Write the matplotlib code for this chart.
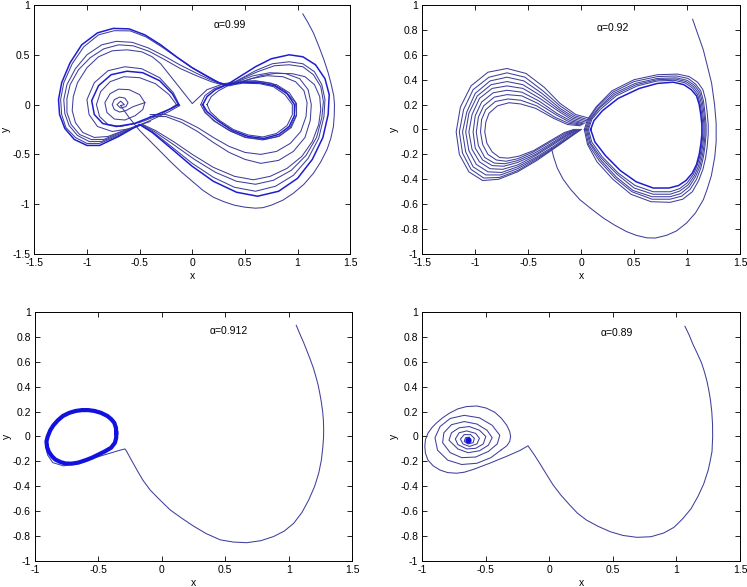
import numpy as np
import matplotlib
matplotlib.use('Agg')
import matplotlib.pyplot as plt
from matplotlib.ticker import FormatStrFormatter

plt.rcParams['font.family'] = ['Liberation Sans', 'DejaVu Sans']
plt.rcParams['axes.unicode_minus'] = False

# ---------------- alpha = 0.99 (top left) ----------------
tl_label = 'α=0.99'
tl_tail = np.array([(1.05, 0.91), (1.1, 0.82), (1.15, 0.72), (1.2, 0.59), (1.25, 0.45), (1.29, 0.32),
                    (1.32, 0.2), (1.343, 0.09), (1.35, 0.0), (1.348, -0.11), (1.34, -0.22), (1.315, -0.34),
                    (1.28, -0.45), (1.22, -0.575), (1.15, -0.69), (1.06, -0.8), (0.96, -0.89), (0.86, -0.96),
                    (0.75, -1.01), (0.67, -1.035), (0.6, -1.04), (0.5, -1.03), (0.4, -1.01), (0.3, -0.975),
                    (0.2, -0.93), (0.1, -0.86), (0.0, -0.77), (-0.1, -0.68), (-0.2, -0.58), (-0.35, -0.42),
                    (-0.5, -0.26), (-0.6, -0.13), (-0.68, -0.01)])
tl_spiral = np.array([(-0.68, -0.01), (-0.645, 0.0), (-0.68, 0.035), (-0.715, 0.0), (-0.68, -0.035),
                      (-0.63, -0.02), (-0.61, 0.02), (-0.64, 0.065), (-0.69, 0.075), (-0.74, 0.05),
                      (-0.76, 0.0), (-0.74, -0.05), (-0.69, -0.075), (-0.63, -0.06), (-0.56, -0.02),
                      (-0.45, 0.02), (-0.5, 0.1), (-0.6, 0.15), (-0.7, 0.155), (-0.78, 0.11), (-0.83, 0.02),
                      (-0.81, -0.08), (-0.74, -0.145), (-0.64, -0.155), (-0.54, -0.11), (-0.47, -0.05),
                      (-0.45, 0.02)])
tl_loop_b = np.array([(-0.15, 0.0), (-0.22, 0.1), (-0.35, 0.21), (-0.5, 0.27), (-0.65, 0.28), (-0.78, 0.23),
                      (-0.87, 0.13), (-0.91, 0.0), (-0.88, -0.12), (-0.8, -0.2), (-0.68, -0.22), (-0.5, -0.18),
                      (-0.3, -0.1), (-0.15, 0.0)])
tl_loop_c = np.array([(-0.13, 0.0), (-0.19, 0.11), (-0.31, 0.24), (-0.47, 0.32), (-0.62, 0.335), (-0.77, 0.3),
                      (-0.89, 0.19), (-0.955, 0.04), (-0.93, -0.1), (-0.85, -0.19), (-0.72, -0.22),
                      (-0.55, -0.19), (-0.36, -0.11), (-0.2, -0.04), (-0.13, 0.0)])
tl_loop_d = np.array([(-0.12, -0.01), (-0.18, 0.12), (-0.31, 0.27), (-0.48, 0.36), (-0.64, 0.38), (-0.8, 0.34),
                      (-0.93, 0.22), (-1.0, 0.05), (-0.98, -0.1), (-0.9, -0.22), (-0.76, -0.27), (-0.58, -0.24),
                      (-0.4, -0.16), (-0.22, -0.07), (-0.12, -0.01)])
tl_big_1 = np.array([(0.33, 0.2), (0.45, 0.28), (0.6, 0.38), (0.75, 0.46), (0.92, 0.5), (1.05, 0.48),
                     (1.17, 0.4), (1.26, 0.26), (1.3, 0.1), (1.29, -0.1), (1.24, -0.33), (1.14, -0.55),
                     (1.0, -0.74), (0.82, -0.87), (0.62, -0.92), (0.42, -0.88), (0.2, -0.77), (0.0, -0.62),
                     (-0.2, -0.44), (-0.38, -0.28), (-0.5, -0.2), (-0.7, -0.32), (-0.88, -0.41), (-1.0, -0.41),
                     (-1.12, -0.35), (-1.21, -0.24), (-1.26, -0.1), (-1.27, 0.05), (-1.24, 0.22), (-1.16, 0.42),
                     (-1.05, 0.6), (-0.9, 0.72), (-0.75, 0.765), (-0.6, 0.76), (-0.45, 0.7), (-0.3, 0.6),
                     (-0.15, 0.48), (0.0, 0.37), (0.15, 0.28), (0.25, 0.22), (0.33, 0.2)])
tl_big_2 = np.array([(0.34, 0.19), (0.46, 0.26), (0.6, 0.34), (0.76, 0.41), (0.92, 0.43), (1.05, 0.41),
                     (1.16, 0.33), (1.23, 0.2), (1.26, 0.05), (1.25, -0.12), (1.2, -0.34), (1.1, -0.54),
                     (0.96, -0.71), (0.79, -0.82), (0.6, -0.87), (0.4, -0.83), (0.2, -0.73), (0.0, -0.59),
                     (-0.2, -0.42), (-0.38, -0.27), (-0.5, -0.2), (-0.7, -0.31), (-0.88, -0.39), (-1.0, -0.39),
                     (-1.11, -0.33), (-1.2, -0.23), (-1.24, -0.1), (-1.25, 0.05), (-1.22, 0.22), (-1.14, 0.41),
                     (-1.03, 0.58), (-0.89, 0.7), (-0.74, 0.742), (-0.59, 0.74), (-0.44, 0.68), (-0.29, 0.58),
                     (-0.14, 0.47), (0.01, 0.36), (0.16, 0.27), (0.26, 0.22), (0.34, 0.19)])
tl_big_3 = np.array([(0.35, 0.2), (0.47, 0.26), (0.62, 0.33), (0.78, 0.39), (0.92, 0.4), (1.05, 0.38),
                     (1.15, 0.3), (1.22, 0.18), (1.245, 0.03), (1.23, -0.13), (1.18, -0.33), (1.08, -0.51),
                     (0.94, -0.66), (0.77, -0.76), (0.6, -0.8), (0.42, -0.77), (0.22, -0.68), (0.02, -0.55),
                     (-0.18, -0.4), (-0.36, -0.27), (-0.48, -0.2), (-0.68, -0.29), (-0.86, -0.37), (-0.98, -0.37),
                     (-1.09, -0.31), (-1.17, -0.21), (-1.21, -0.09), (-1.22, 0.05), (-1.19, 0.2), (-1.11, 0.36),
                     (-1.0, 0.5), (-0.86, 0.6), (-0.72, 0.635), (-0.57, 0.625), (-0.42, 0.57), (-0.27, 0.49),
                     (-0.12, 0.4), (0.03, 0.32), (0.17, 0.25), (0.27, 0.21), (0.35, 0.2)])
tl_big_4 = np.array([(0.36, 0.19), (0.5, 0.24), (0.65, 0.29), (0.8, 0.315), (0.95, 0.31), (1.07, 0.28),
                     (1.16, 0.2), (1.21, 0.08), (1.22, -0.05), (1.2, -0.2), (1.14, -0.37), (1.04, -0.52),
                     (0.9, -0.64), (0.74, -0.72), (0.58, -0.755), (0.4, -0.72), (0.2, -0.63), (0.0, -0.5),
                     (-0.18, -0.37), (-0.35, -0.26), (-0.47, -0.2), (-0.66, -0.27), (-0.84, -0.35),
                     (-0.96, -0.35), (-1.07, -0.3), (-1.15, -0.2), (-1.19, -0.08), (-1.19, 0.06), (-1.16, 0.2),
                     (-1.08, 0.35), (-0.97, 0.47), (-0.84, 0.56), (-0.7, 0.6), (-0.56, 0.59), (-0.41, 0.535),
                     (-0.26, 0.45), (-0.11, 0.36), (0.04, 0.29), (0.18, 0.23), (0.28, 0.2), (0.36, 0.19)])
tl_big_5 = np.array([(-0.4, -0.17), (-0.6, -0.24), (-0.8, -0.32), (-0.93, -0.33), (-1.04, -0.28),
                     (-1.11, -0.18), (-1.14, -0.06), (-1.13, 0.08), (-1.09, 0.22), (-1.0, 0.37), (-0.89, 0.48),
                     (-0.76, 0.54), (-0.62, 0.55), (-0.48, 0.53), (-0.38, 0.48), (-0.3, 0.41), (-0.15, 0.21),
                     (0.0, 0.01), (0.14, 0.15), (0.3, 0.21), (0.45, 0.235), (0.6, 0.24), (0.75, 0.215),
                     (0.88, 0.14), (0.98, 0.02), (0.99, -0.1), (0.93, -0.23), (0.82, -0.32), (0.67, -0.355),
                     (0.5, -0.33), (0.35, -0.26), (0.2, -0.16), (0.12, -0.07), (0.1, 0.0)])
tl_mid_1 = np.array([(-0.4, -0.1), (-0.25, -0.1), (-0.1, -0.15), (0.05, -0.23), (0.2, -0.33), (0.35, -0.42),
                     (0.5, -0.48), (0.65, -0.5), (0.8, -0.47), (0.93, -0.39), (1.03, -0.27), (1.08, -0.12),
                     (1.09, 0.02), (1.06, 0.14), (0.98, 0.23), (0.86, 0.28), (0.71, 0.29), (0.56, 0.26),
                     (0.44, 0.22), (0.34, 0.2)])
tl_mid_2 = np.array([(-0.4, -0.12), (-0.25, -0.12), (-0.1, -0.18), (0.05, -0.27), (0.2, -0.38), (0.35, -0.48),
                     (0.5, -0.55), (0.65, -0.59), (0.82, -0.56), (0.96, -0.47), (1.07, -0.33), (1.12, -0.16),
                     (1.13, 0.0), (1.1, 0.15), (1.02, 0.26), (0.89, 0.31), (0.74, 0.32), (0.58, 0.29),
                     (0.45, 0.24), (0.34, 0.2)])
tl_tear_1 = np.array([(0.1, 0.0), (0.14, 0.08), (0.22, 0.15), (0.33, 0.2), (0.48, 0.225), (0.64, 0.22),
                      (0.78, 0.19), (0.9, 0.11), (0.97, 0.0), (0.97, -0.11), (0.92, -0.22), (0.82, -0.3),
                      (0.68, -0.34), (0.53, -0.32), (0.38, -0.26), (0.24, -0.16), (0.14, -0.07), (0.1, 0.0)])
tl_tear_2 = np.array([(0.08, 0.0), (0.12, 0.09), (0.21, 0.16), (0.33, 0.205), (0.48, 0.23), (0.65, 0.23),
                      (0.8, 0.2), (0.92, 0.12), (0.99, 0.01), (0.99, -0.11), (0.94, -0.23), (0.83, -0.315),
                      (0.68, -0.35), (0.52, -0.33), (0.37, -0.27), (0.22, -0.17), (0.12, -0.08), (0.08, 0.0)])
tl_tear_3 = np.array([(0.14, 0.0), (0.18, 0.08), (0.25, 0.14), (0.34, 0.19), (0.48, 0.215), (0.64, 0.21),
                      (0.77, 0.18), (0.88, 0.1), (0.95, 0.0), (0.95, -0.1), (0.9, -0.21), (0.8, -0.29),
                      (0.67, -0.325), (0.53, -0.305), (0.39, -0.25), (0.26, -0.16), (0.17, -0.07), (0.14, 0.0)])

# ---------------- alpha = 0.92 (top right) ----------------
tr_label = 'α=0.92'
tr_tail = np.array([(1.053, 0.885), (1.1, 0.77), (1.154, 0.639), (1.195, 0.5), (1.232, 0.372), (1.26, 0.2),
                    (1.275, 0.05), (1.275, -0.1), (1.262, -0.22), (1.23, -0.37), (1.19, -0.48), (1.154, -0.564),
                    (1.08, -0.67), (0.996, -0.751), (0.9, -0.815), (0.807, -0.85), (0.7, -0.872), (0.618, -0.87),
                    (0.52, -0.85), (0.429, -0.82), (0.32, -0.77), (0.208, -0.71), (0.1, -0.64), (-0.012, -0.564),
                    (-0.1, -0.48), (-0.17, -0.4), (-0.225, -0.31), (-0.26, -0.22), (-0.28, -0.15)])
tr_left_0 = np.array([(0.08, 0.09), (-0.05, 0.12), (-0.2, 0.21), (-0.35, 0.34), (-0.52, 0.45), (-0.7, 0.49),
                      (-0.88, 0.46), (-1.04, 0.35), (-1.14, 0.18), (-1.18, -0.02), (-1.15, -0.2), (-1.06, -0.34),
                      (-0.93, -0.41), (-0.78, -0.4), (-0.6, -0.34), (-0.42, -0.25), (-0.25, -0.15),
                      (-0.1, -0.06), (0.0, 0.0)])
tr_left_1 = np.array([(0.06, 0.08), (-0.06, 0.11), (-0.2, 0.19), (-0.36, 0.31), (-0.53, 0.42), (-0.7, 0.455),
                      (-0.87, 0.42), (-1.02, 0.32), (-1.11, 0.16), (-1.15, -0.02), (-1.12, -0.19), (-1.04, -0.32),
                      (-0.92, -0.39), (-0.77, -0.385), (-0.6, -0.33), (-0.42, -0.24), (-0.25, -0.145),
                      (-0.1, -0.055), (0.0, 0.0)])
tr_left_2 = np.array([(0.05, 0.07), (-0.07, 0.1), (-0.2, 0.17), (-0.37, 0.29), (-0.54, 0.39), (-0.7, 0.42),
                      (-0.86, 0.39), (-1.0, 0.29), (-1.08, 0.14), (-1.12, -0.02), (-1.09, -0.18), (-1.02, -0.3),
                      (-0.9, -0.365), (-0.76, -0.365), (-0.6, -0.315), (-0.42, -0.23), (-0.25, -0.14),
                      (-0.1, -0.05), (-0.01, 0.0)])
tr_left_3 = np.array([(0.04, 0.06), (-0.08, 0.09), (-0.21, 0.16), (-0.38, 0.27), (-0.55, 0.36), (-0.7, 0.385),
                      (-0.85, 0.36), (-0.98, 0.27), (-1.06, 0.13), (-1.09, -0.02), (-1.06, -0.17), (-0.99, -0.28),
                      (-0.88, -0.34), (-0.75, -0.345), (-0.6, -0.3), (-0.42, -0.22), (-0.25, -0.13),
                      (-0.11, -0.045), (-0.02, 0.0)])
tr_left_4 = np.array([(0.03, 0.05), (-0.09, 0.08), (-0.22, 0.15), (-0.39, 0.25), (-0.55, 0.33), (-0.7, 0.35),
                      (-0.84, 0.33), (-0.96, 0.25), (-1.03, 0.12), (-1.06, -0.02), (-1.03, -0.16), (-0.96, -0.26),
                      (-0.86, -0.315), (-0.74, -0.32), (-0.6, -0.285), (-0.43, -0.21), (-0.26, -0.12),
                      (-0.12, -0.04), (-0.03, 0.0)])
tr_left_5 = np.array([(0.02, 0.045), (-0.1, 0.07), (-0.23, 0.13), (-0.4, 0.23), (-0.56, 0.3), (-0.7, 0.315),
                      (-0.83, 0.295), (-0.94, 0.22), (-1.0, 0.11), (-1.02, -0.02), (-1.0, -0.15), (-0.93, -0.245),
                      (-0.84, -0.29), (-0.73, -0.295), (-0.6, -0.265), (-0.43, -0.2), (-0.27, -0.115),
                      (-0.13, -0.04), (-0.04, 0.0)])
tr_left_6 = np.array([(0.01, 0.04), (-0.11, 0.06), (-0.24, 0.12), (-0.41, 0.21), (-0.56, 0.27), (-0.7, 0.28),
                      (-0.82, 0.26), (-0.92, 0.19), (-0.97, 0.1), (-0.99, -0.02), (-0.97, -0.13), (-0.91, -0.225),
                      (-0.82, -0.27), (-0.72, -0.275), (-0.6, -0.25), (-0.44, -0.19), (-0.28, -0.11),
                      (-0.14, -0.035), (-0.05, 0.0)])
tr_left_7 = np.array([(0.0, 0.035), (-0.12, 0.05), (-0.25, 0.1), (-0.42, 0.19), (-0.57, 0.235), (-0.69, 0.245),
                      (-0.81, 0.225), (-0.9, 0.16), (-0.94, 0.08), (-0.95, -0.02), (-0.93, -0.12), (-0.88, -0.2),
                      (-0.8, -0.245), (-0.71, -0.255), (-0.6, -0.235), (-0.45, -0.18), (-0.29, -0.1),
                      (-0.15, -0.03), (-0.06, 0.0)])
tr_left_8 = np.array([(-0.01, 0.03), (-0.13, 0.04), (-0.26, 0.09), (-0.43, 0.17), (-0.57, 0.205), (-0.68, 0.215),
                      (-0.79, 0.19), (-0.87, 0.13), (-0.9, 0.06), (-0.91, -0.02), (-0.89, -0.11), (-0.84, -0.18),
                      (-0.77, -0.225), (-0.69, -0.23), (-0.59, -0.215), (-0.45, -0.17), (-0.3, -0.095),
                      (-0.16, -0.025), (-0.07, 0.0)])
tr_cycle = np.array([(0.09, 0.0), (0.12, 0.07), (0.2, 0.15), (0.35, 0.25), (0.55, 0.33), (0.72, 0.37), (0.87, 0.38),
                     (0.97, 0.36), (1.04, 0.32), (1.09, 0.27), (1.115, 0.2), (1.13, 0.12), (1.14, 0.04),
                     (1.14, -0.04), (1.13, -0.12), (1.115, -0.2), (1.09, -0.28), (1.05, -0.35), (0.99, -0.41),
                     (0.92, -0.45), (0.83, -0.47), (0.68, -0.47), (0.52, -0.42), (0.37, -0.33), (0.23, -0.21),
                     (0.13, -0.1), (0.09, 0.0)])
tr_right_1 = np.array([(0.07, 0.0), (0.1, 0.08), (0.18, 0.16), (0.33, 0.27), (0.53, 0.35), (0.72, 0.39),
                       (0.88, 0.395), (0.98, 0.375), (1.05, 0.335), (1.1, 0.28), (1.125, 0.2), (1.14, 0.12),
                       (1.15, 0.04), (1.15, -0.04), (1.14, -0.12), (1.125, -0.2), (1.1, -0.28), (1.06, -0.36),
                       (1.0, -0.43), (0.93, -0.475), (0.84, -0.5), (0.68, -0.5), (0.51, -0.45), (0.35, -0.35),
                       (0.2, -0.22), (0.1, -0.1), (0.07, 0.0)])
tr_right_2 = np.array([(0.06, 0.0), (0.09, 0.08), (0.17, 0.17), (0.32, 0.28), (0.52, 0.36), (0.72, 0.4),
                       (0.89, 0.405), (0.99, 0.385), (1.06, 0.345), (1.11, 0.29), (1.135, 0.21), (1.15, 0.12),
                       (1.16, 0.04), (1.16, -0.04), (1.15, -0.12), (1.135, -0.2), (1.11, -0.29), (1.07, -0.37),
                       (1.01, -0.445), (0.93, -0.495), (0.84, -0.52), (0.68, -0.52), (0.5, -0.47), (0.34, -0.36),
                       (0.19, -0.23), (0.09, -0.11), (0.06, 0.0)])
tr_right_3 = np.array([(0.05, 0.0), (0.08, 0.08), (0.16, 0.17), (0.31, 0.29), (0.51, 0.37), (0.72, 0.41),
                       (0.9, 0.415), (1.0, 0.395), (1.07, 0.355), (1.12, 0.3), (1.145, 0.22), (1.16, 0.13),
                       (1.17, 0.04), (1.17, -0.04), (1.16, -0.13), (1.145, -0.21), (1.12, -0.3), (1.08, -0.38),
                       (1.02, -0.46), (0.94, -0.515), (0.84, -0.54), (0.67, -0.54), (0.49, -0.49), (0.33, -0.38),
                       (0.18, -0.24), (0.08, -0.11), (0.05, 0.0)])
tr_right_4 = np.array([(0.04, 0.0), (0.07, 0.08), (0.15, 0.18), (0.3, 0.3), (0.5, 0.385), (0.72, 0.425),
                       (0.9, 0.43), (1.01, 0.41), (1.08, 0.365), (1.13, 0.31), (1.155, 0.23), (1.17, 0.13),
                       (1.18, 0.04), (1.18, -0.04), (1.17, -0.13), (1.155, -0.22), (1.13, -0.31), (1.09, -0.4),
                       (1.03, -0.48), (0.95, -0.535), (0.84, -0.56), (0.67, -0.56), (0.48, -0.5), (0.32, -0.39),
                       (0.17, -0.25), (0.07, -0.12), (0.04, 0.0)])
tr_right_5 = np.array([(0.03, 0.0), (0.06, 0.08), (0.14, 0.18), (0.29, 0.31), (0.5, 0.4), (0.72, 0.44),
                       (0.91, 0.445), (1.02, 0.425), (1.1, 0.38), (1.15, 0.32), (1.175, 0.24), (1.19, 0.14),
                       (1.2, 0.04), (1.2, -0.04), (1.19, -0.14), (1.175, -0.23), (1.15, -0.32), (1.11, -0.41),
                       (1.05, -0.5), (0.96, -0.56), (0.84, -0.585), (0.66, -0.58), (0.47, -0.52), (0.3, -0.4),
                       (0.15, -0.26), (0.06, -0.12), (0.03, 0.0)])

# ---------------- alpha = 0.912 (bottom left) ----------------
bl_label = 'α=0.912'
bl_tail = np.array([(1.06, 0.893), (1.09, 0.82), (1.12, 0.75), (1.147, 0.68), (1.171, 0.617), (1.195, 0.55),
                    (1.215, 0.48), (1.232, 0.415), (1.245, 0.349), (1.258, 0.275), (1.268, 0.2), (1.274, 0.13),
                    (1.276, 0.06), (1.275, -0.01), (1.27, -0.08), (1.258, -0.19), (1.237, -0.295),
                    (1.205, -0.4), (1.158, -0.51), (1.105, -0.61), (1.04, -0.697), (0.965, -0.76),
                    (0.88, -0.804), (0.78, -0.837), (0.67, -0.853), (0.565, -0.848), (0.46, -0.83),
                    (0.35, -0.78), (0.25, -0.72), (0.155, -0.655), (0.066, -0.59), (-0.015, -0.51),
                    (-0.092, -0.43), (-0.15, -0.35), (-0.197, -0.268), (-0.245, -0.18), (-0.275, -0.125),
                    (-0.29, -0.1), (-0.33, -0.11), (-0.408, -0.134), (-0.54, -0.174), (-0.67, -0.218),
                    (-0.776, -0.236), (-0.86, -0.21), (-0.9, -0.15), (-0.913, -0.1)])
bl_cycle = np.array([(-0.36, 0.03), (-0.362, 0.07), (-0.375, 0.11), (-0.4, 0.14), (-0.43, 0.165), (-0.48, 0.19),
                     (-0.53, 0.205), (-0.58, 0.212), (-0.63, 0.212), (-0.68, 0.205), (-0.73, 0.19), (-0.78, 0.165),
                     (-0.82, 0.13), (-0.855, 0.09), (-0.88, 0.05), (-0.9, 0.0), (-0.91, -0.04), (-0.905, -0.085),
                     (-0.89, -0.125), (-0.865, -0.16), (-0.84, -0.185), (-0.8, -0.205), (-0.76, -0.217),
                     (-0.71, -0.218), (-0.66, -0.21), (-0.6, -0.19), (-0.55, -0.17), (-0.5, -0.145),
                     (-0.45, -0.12), (-0.4, -0.09), (-0.37, -0.05), (-0.36, -0.01), (-0.36, 0.03)])

# ---------------- alpha = 0.89 (bottom right) ----------------
br_label = 'α=0.89'
br_tail = np.array([(1.067, 0.885), (1.1, 0.815), (1.13, 0.74), (1.165, 0.665), (1.198, 0.59), (1.22, 0.52),
                    (1.24, 0.445), (1.255, 0.37), (1.268, 0.29), (1.278, 0.2), (1.284, 0.1), (1.285, 0.0),
                    (1.28, -0.12), (1.265, -0.2), (1.25, -0.27), (1.215, -0.38), (1.17, -0.48), (1.115, -0.58),
                    (1.05, -0.66), (0.98, -0.73), (0.9, -0.775), (0.8, -0.805), (0.69, -0.81), (0.58, -0.795),
                    (0.48, -0.765), (0.38, -0.72), (0.29, -0.67), (0.22, -0.615), (0.16, -0.55), (0.09, -0.47),
                    (0.03, -0.39), (-0.025, -0.3), (-0.076, -0.215), (-0.12, -0.145), (-0.168, -0.075),
                    (-0.233, -0.113), (-0.338, -0.16), (-0.47, -0.215), (-0.6, -0.265), (-0.67, -0.287),
                    (-0.73, -0.295), (-0.8, -0.29), (-0.86, -0.27), (-0.915, -0.235), (-0.955, -0.19),
                    (-0.975, -0.135), (-0.98, -0.08), (-0.975, -0.025), (-0.955, 0.027), (-0.925, 0.07),
                    (-0.89, 0.107), (-0.84, 0.15), (-0.785, 0.188), (-0.72, 0.222), (-0.653, 0.24),
                    (-0.57, 0.245), (-0.496, 0.228), (-0.43, 0.195), (-0.378, 0.147), (-0.335, 0.09),
                    (-0.312, 0.04), (-0.305, 0.0), (-0.312, -0.04), (-0.335, -0.075), (-0.378, -0.107)])
br_spiral = np.array([(-0.378, -0.107), (-0.46, -0.17), (-0.57, -0.215), (-0.69, -0.225), (-0.8, -0.19),
                      (-0.88, -0.11), (-0.9, -0.01), (-0.86, 0.08), (-0.78, 0.145), (-0.67, 0.17), (-0.55, 0.15),
                      (-0.45, 0.09), (-0.39, 0.01), (-0.41, -0.06), (-0.48, -0.12), (-0.58, -0.165),
                      (-0.69, -0.17), (-0.78, -0.13), (-0.84, -0.05), (-0.83, 0.03), (-0.77, 0.095),
                      (-0.67, 0.12), (-0.57, 0.1), (-0.49, 0.05), (-0.45, -0.01), (-0.48, -0.07), (-0.55, -0.115),
                      (-0.64, -0.13), (-0.72, -0.1), (-0.79, -0.03), (-0.77, 0.03), (-0.71, 0.07), (-0.63, 0.08),
                      (-0.55, 0.05), (-0.5, 0.0), (-0.52, -0.06), (-0.58, -0.095), (-0.65, -0.1), (-0.72, -0.065),
                      (-0.74, -0.02), (-0.71, 0.03), (-0.65, 0.045), (-0.58, 0.025), (-0.55, -0.015),
                      (-0.57, -0.06), (-0.63, -0.08), (-0.68, -0.06), (-0.7, -0.02), (-0.67, 0.015),
                      (-0.62, 0.015), (-0.59, -0.015), (-0.6, -0.05), (-0.64, -0.06), (-0.67, -0.04),
                      (-0.66, -0.01), (-0.63, -0.005), (-0.62, -0.03), (-0.64, -0.04)])
br_center = np.array([-0.64, -0.025])

thin_c = '#3f3f9c'
bold_c = '#1e1ed0'

fig = plt.figure(figsize=(7.47, 5.87), dpi=100)
ax_tl = fig.add_axes([0.0459, 0.5673, 0.4230, 0.4242])
ax_tr = fig.add_axes([0.5653, 0.5673, 0.4253, 0.4242])
ax_bl = fig.add_axes([0.0469, 0.0443, 0.4244, 0.4242])
ax_br = fig.add_axes([0.5653, 0.0443, 0.4253, 0.4242])


def draw(ax, pts, bold=False):
    if bold:
        ax.plot(pts[:, 0], pts[:, 1], color=bold_c, lw=1.1, solid_joinstyle='round')
    else:
        ax.plot(pts[:, 0], pts[:, 1], color=thin_c, lw=0.75, solid_joinstyle='round')


def setup(ax, xlim, ylim, xt, yt, label, lx, ly):
    ax.set_xlim(xlim)
    ax.set_ylim(ylim)
    ax.set_xticks(xt)
    ax.set_yticks(yt)
    ax.xaxis.set_major_formatter(FormatStrFormatter('%g'))
    ax.yaxis.set_major_formatter(FormatStrFormatter('%g'))
    ax.tick_params(direction='in', top=True, right=True, length=3.5, width=0.6, labelsize=7.5, pad=3)
    for s in ax.spines.values():
        s.set_linewidth(0.7)
    ax.set_xlabel('x', fontsize=7.5, labelpad=2)
    ax.set_ylabel('y', fontsize=7.5, labelpad=1)
    ax.text(lx, ly, label, fontsize=7.5, ha='left', va='center')


# top left
for p in [tl_tail, tl_spiral, tl_loop_b, tl_loop_d, tl_big_2, tl_big_3, tl_big_4, tl_big_5,
          tl_mid_1, tl_mid_2, tl_tear_2, tl_tear_3]:
    draw(ax_tl, p)
for p in [tl_loop_c, tl_big_1, tl_tear_1]:
    draw(ax_tl, p, bold=True)
setup(ax_tl, (-1.5, 1.5), (-1.5, 1), [-1.5, -1, -0.5, 0, 0.5, 1, 1.5],
      [-1.5, -1, -0.5, 0, 0.5, 1], tl_label, 0.2, 0.8)

# top right
for p in [tr_tail, tr_left_0, tr_left_1, tr_left_2, tr_left_3, tr_left_4, tr_left_5, tr_left_6,
          tr_left_7, tr_left_8, tr_right_1, tr_right_2, tr_right_3, tr_right_4, tr_right_5]:
    draw(ax_tr, p)
draw(ax_tr, tr_cycle, bold=True)
setup(ax_tr, (-1.5, 1.5), (-1, 1), [-1.5, -1, -0.5, 0, 0.5, 1, 1.5],
      [-1, -0.8, -0.6, -0.4, -0.2, 0, 0.2, 0.4, 0.6, 0.8, 1], tr_label, 0.15, 0.815)

# bottom left
draw(ax_bl, bl_tail)
ax_bl.plot(bl_cycle[:, 0], bl_cycle[:, 1], color='#1010e0', lw=3.0, solid_joinstyle='round')
setup(ax_bl, (-1, 1.5), (-1, 1), [-1, -0.5, 0, 0.5, 1, 1.5],
      [-1, -0.8, -0.6, -0.4, -0.2, 0, 0.2, 0.4, 0.6, 0.8, 1], bl_label, 0.38, 0.845)

# bottom right
draw(ax_br, br_tail)
draw(ax_br, br_spiral)
ax_br.plot(br_center[0], br_center[1], 'o', color='#1010e0', ms=3.5)
setup(ax_br, (-1, 1.5), (-1, 1), [-1, -0.5, 0, 0.5, 1, 1.5],
      [-1, -0.8, -0.6, -0.4, -0.2, 0, 0.2, 0.4, 0.6, 0.8, 1], br_label, 0.405, 0.835)

fig.savefig('out.png', dpi=100)
